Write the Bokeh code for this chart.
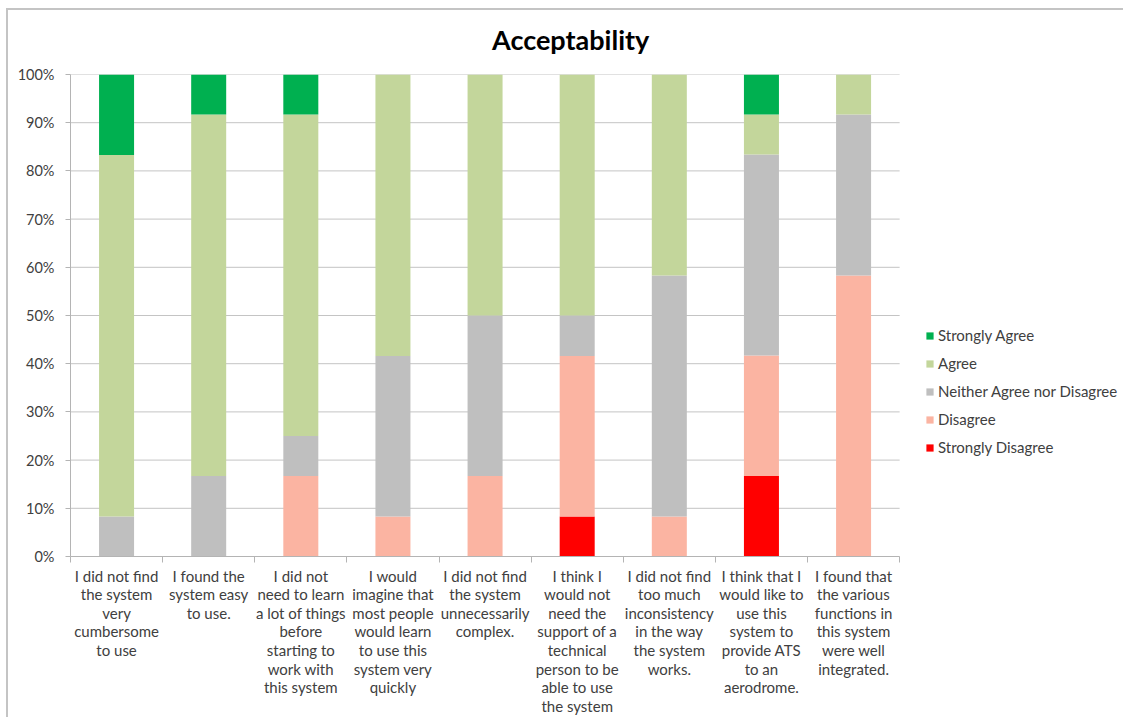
from bokeh.plotting import figure
from bokeh.layouts import column
from bokeh.models import (ColumnDataSource, FixedTicker, PrintfTickFormatter,
                          Legend, LegendItem, Div)
from bokeh.embed import file_html
from bokeh.resources import INLINE

# Survey statements (wrapped as they appear under each bar)
statements = [
    "I did not find\nthe system\nvery\ncumbersome\nto use",
    "I found the\nsystem easy\nto use.",
    "I did not\nneed to learn\na lot of things\nbefore\nstarting to\nwork with\nthis system",
    "I would\nimagine that\nmost people\nwould learn\nto use this\nsystem very\nquickly",
    "I did not find\nthe system\nunnecessarily\ncomplex.",
    "I think I\nwould not\nneed the\nsupport of a\ntechnical\nperson to be\nable to use\nthe system",
    "I did not find\ntoo much\ninconsistency\nin the way\nthe system\nworks.",
    "I think that I\nwould like to\nuse this\nsystem to\nprovide ATS\nto an\naerodrome.",
    "I found that\nthe various\nfunctions in\nthis system\nwere well\nintegrated.",
]

# Share of responses per answer (percent), bottom of the stack first
strongly_disagree = [0.0, 0.0, 0.0, 0.0, 0.0, 8.3, 0.0, 16.7, 0.0]
disagree          = [0.0, 0.0, 16.7, 8.3, 16.7, 33.3, 8.3, 25.0, 58.3]
neither           = [8.3, 16.7, 8.3, 33.3, 33.3, 8.4, 50.0, 41.7, 33.4]
agree             = [75.0, 75.0, 66.7, 58.4, 50.0, 50.0, 41.7, 8.3, 8.3]
strongly_agree    = [16.7, 8.3, 8.3, 0.0, 0.0, 0.0, 0.0, 8.3, 0.0]

series_names = ["Strongly Disagree", "Disagree", "Neither Agree nor Disagree",
                "Agree", "Strongly Agree"]
series_keys = ["sd", "d", "n", "a", "sa"]
series_colors = ["#ff0000", "#fbb4a2", "#bfbfbf", "#c3d69b", "#00b050"]

y_ticks = [0, 10, 20, 30, 40, 50, 60, 70, 80, 90, 100]

FONT = "Lato"
TEXT = "#404040"
AXIS = "#b4b4b4"

n_cat = len(statements)
positions = [i + 0.5 for i in range(n_cat)]
boundaries = list(range(n_cat + 1))
src = ColumnDataSource(dict(x=positions, sd=strongly_disagree, d=disagree,
                            n=neither, a=agree, sa=strongly_agree))

# Chart heading above the plot
heading = Div(text="Acceptability", width=1115, height=54, margin=0,
              styles={"font-family": FONT, "font-size": "27px",
                      "font-weight": "bold", "color": "black",
                      "line-height": "27px", "padding-top": "16px",
                      "padding-left": "484px", "box-sizing": "border-box",
                      "background": "white"})

# The frame runs on to the right edge so the legend can sit beside the bars
p = figure(width=1115, height=653, x_range=(0, 11.43), y_range=(0, 100),
           output_backend="svg", toolbar_location=None,
           min_border_left=62, min_border_top=10, min_border_bottom=161,
           min_border_right=0, margin=0)
p.outline_line_color = None
p.background_fill_color = "white"
p.border_fill_color = "white"

# Horizontal gridlines limited to the bar area
p.segment(x0=0, x1=n_cat, y0=y_ticks, y1=y_ticks, line_color="#c4c4c4",
          line_width=1, level="underlay")
p.xgrid.grid_line_color = None
p.ygrid.grid_line_color = None

renderers = p.vbar_stack(series_keys, x="x", width=0.38, color=series_colors,
                         line_color=None, source=src)

# Y axis: percentages
p.yaxis.ticker = FixedTicker(ticks=y_ticks)
p.yaxis.formatter = PrintfTickFormatter(format="%d%%")
p.yaxis.major_label_text_font = FONT
p.yaxis.major_label_text_font_size = "14.5px"
p.yaxis.major_label_text_color = TEXT
p.yaxis.major_label_standoff = 11
p.yaxis.axis_line_color = AXIS
p.yaxis.major_tick_line_color = AXIS
p.yaxis.major_tick_out = 5
p.yaxis.major_tick_in = 0
p.yaxis.minor_tick_line_color = None

# X axis: statements under the bars, tick marks between the categories
p.xaxis.bounds = (0, n_cat)
p.xaxis.ticker = FixedTicker(ticks=positions, minor_ticks=boundaries)
p.xaxis.major_label_overrides = {pos: s for pos, s in zip(positions, statements)}
p.xaxis.major_label_orientation = "horizontal"
p.xaxis.major_label_text_font = FONT
p.xaxis.major_label_text_font_size = "15px"
p.xaxis.major_label_text_color = TEXT
p.xaxis.major_label_text_line_height = 1.035
p.xaxis.major_label_standoff = 4
p.xaxis.axis_line_color = AXIS
p.xaxis.major_tick_line_color = None
p.xaxis.major_tick_out = 0
p.xaxis.major_tick_in = 0
p.xaxis.minor_tick_line_color = AXIS
p.xaxis.minor_tick_out = 6
p.xaxis.minor_tick_in = 0

items = [LegendItem(label=name, renderers=[r])
         for name, r in zip(series_names, renderers)][::-1]
legend = Legend(items=items, location=(855, 99), border_line_color=None,
                background_fill_alpha=0, label_text_font=FONT,
                label_text_font_size="15px", label_text_color=TEXT,
                glyph_width=9, glyph_height=9, label_height=20,
                label_standoff=4, spacing=8, padding=0, margin=0)
p.add_layout(legend)

layout = column(heading, p, spacing=0, margin=(10, 0, 0, 8),
                styles={"outline": "2px solid #c4c4c4", "background": "white"})

open("out.html", "w").write(file_html(layout, INLINE))
